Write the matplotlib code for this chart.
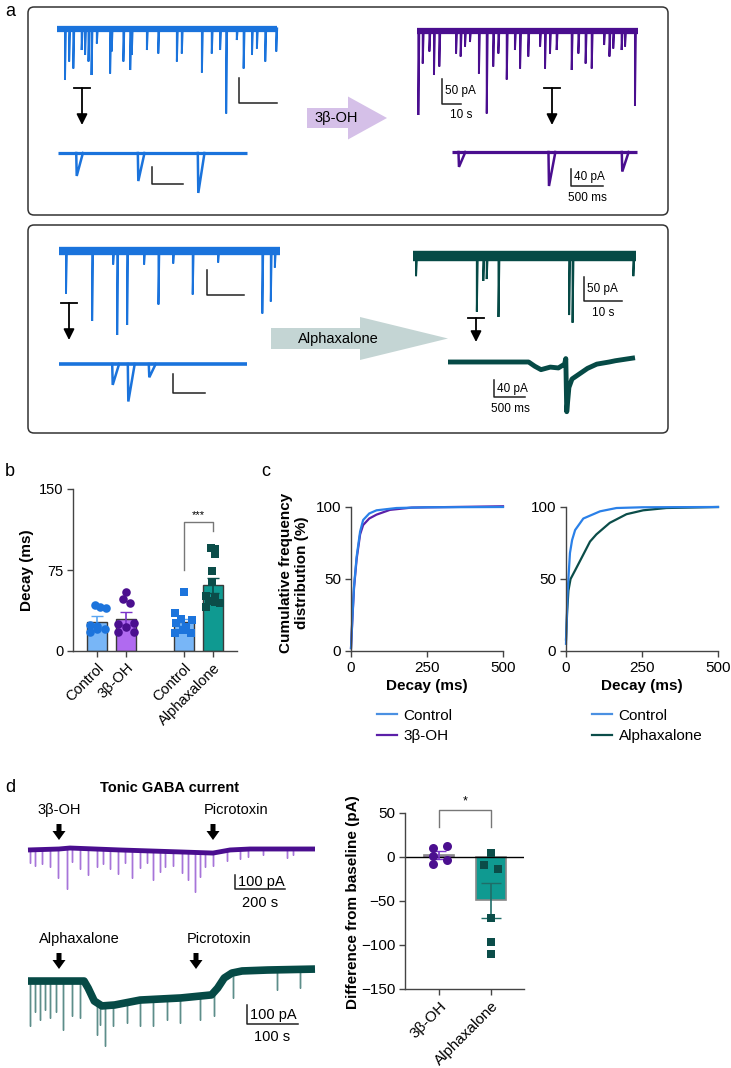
import numpy as np
import matplotlib
matplotlib.use("Agg")
import matplotlib.pyplot as plt
from matplotlib.patches import FancyBboxPatch, FancyArrow

plt.rcParams['font.family'] = ['Liberation Sans', 'DejaVu Sans']
plt.rcParams['axes.unicode_minus'] = True

W, H = 731, 1068

BLUE = '#1a73dc'
PURPLE = '#4a0e8f'
GREEN = '#064a46'

# ---------------- panel a: sIPSC traces (event time, amplitude in pA) ----------------
# box 1, control (blue), 58 s
a1_ctrl_t = [2.1, 3.2, 4.3, 6.5, 7.4, 8.3, 9.1, 10.5, 14.0, 14.4, 17.5, 19.3, 19.7, 23.7,
             26.7, 31.6, 32.9, 38.2, 40.8, 43.0, 44.6, 47.4, 49.2, 51.4, 52.7, 54.9, 57.8]
a1_ctrl_amp = [103, 66, 80, 43, 53, 66, 93, 30, 90, 46, 66, 83, 53, 43,
               50, 66, 50, 88, 50, 43, 170, 23, 80, 53, 40, 66, 46]
a1_ctrl_zoom_t = [302, 1296, 2264]
a1_ctrl_zoom_amp = [54, 66, 94]
# box 1, 3beta-OH (purple)
a1_beta_t = [0.7, 3.0, 6.5, 8.9, 11.7, 20.5, 22.9, 25.2, 27.8, 32.5, 36.6, 40.0, 42.7, 47.1,
             51.4, 54.1, 58.4, 64.6, 67.2, 69.8, 73.3, 81.2, 84.7, 88.5, 91.7, 98.2, 101.0,
             103.0, 107.4, 109.2, 114.4]
a1_beta_amp = [168, 65, 41, 88, 71, 45, 51, 31, 22, 85, 165, 71, 45, 97,
               38, 75, 51, 31, 75, 45, 38, 78, 45, 65, 75, 28, 51,
               35, 38, 31, 150]
a1_beta_zoom_t = [109, 1515, 2660]
a1_beta_zoom_amp = [35, 80, 46]
# box 2, control (blue)
a2_ctrl_t = [1.9, 9.0, 14.7, 15.8, 18.5, 23.1, 27.0, 31.0, 36.3, 43.2, 55.2, 57.5, 58.6]
a2_ctrl_amp = [85, 140, 27, 168, 148, 27, 107, 25, 87, 23, 125, 101, 33]
a2_ctrl_zoom_t = [840, 1084, 1412]
a2_ctrl_zoom_amp = [44, 79, 28]
# box 2, alphaxalone (green)
a2_alfa_t = [0.8, 16.8, 18.5, 19.4, 22.5, 41.1, 42.0, 58.0]
a2_alfa_amp = [42, 116, 52, 48, 127, 123, 139, 42]
a2_alfa_zoom_t = [0, 1300, 1400, 1500, 1650, 1780, 1880, 1900, 1915, 1950, 2000, 2100,
                  2250, 2400, 2600, 2700, 3016]
a2_alfa_zoom_pA = [0, 0, -10, -18, -12, -14, -5, 8, -117, -60, -40, -30,
                   -15, -5, 0, 3, 10]

# ---------------- panel b: decay (ms) ----------------
b_groups = ['Control', '3β-OH', 'Control', 'Alphaxalone']
b_mean = [27, 30, 27, 61]
b_sem = [5, 6, 3, 7]
b_ctrl1 = [43, 41, 40, 24, 23, 18, 20, 20]
b_beta = [55, 48, 44, 25, 26, 18, 22, 18]
b_ctrl2 = [55, 35, 30, 29, 26, 22, 17, 17, 19]
b_alfa = [95, 94, 90, 74, 64, 51, 49, 46, 44, 41, 45]

# ---------------- panel c: cumulative distributions ----------------
c_left_t = [0, 5, 10, 18.6, 30, 40, 60, 84, 150, 250, 500]
c_left_ctrl = [2, 25, 45, 65.6, 83, 91, 95.5, 97.7, 99.3, 99.8, 100]
c_left_beta_t = [0, 5, 10, 18.6, 30, 40, 60, 84, 128, 200, 500]
c_left_beta = [2, 24, 44, 64, 81, 87.5, 92, 94.7, 98, 99.6, 100.5]
c_right_t = [0, 5, 13, 20, 30, 57, 112, 166, 250, 500]
c_right_ctrl = [5, 40, 68, 77, 84, 92, 97, 99.3, 99.8, 100]
c_right_alfa_t = [0, 4, 8, 15, 30, 57, 79, 100, 144, 199, 254, 330, 500]
c_right_alfa = [8, 28, 42, 50, 56, 67, 76, 81, 89, 95, 97.7, 99.3, 100]

# ---------------- panel d: tonic current ----------------
d_beta_base_t = [0, 124, 168, 368, 608, 740, 808, 888, 1148]
d_beta_base_pA = [-7, 0, 7, -7, -21, -29, -7, 0, 0]
d_beta_ev_t = [8, 28, 55, 88, 121, 155, 175, 208, 241, 275, 301, 328, 361, 388, 415, 448, 475,
               501, 528, 548, 581, 615, 641, 668, 688, 708, 741, 795, 848, 881, 941, 1035, 1061]
d_beta_ev_amp = [90, 114, 102, 126, 210, 293, 102, 150, 186, 126, 102, 138, 174, 90, 198, 126, 90,
                 210, 150, 114, 102, 150, 198, 281, 174, 102, 90, 78, 66, 55, 43, 66, 43]
d_alfa_base_t = [0, 110, 118, 130, 145, 170, 220, 300, 360, 372, 385, 400, 420, 470, 563]
d_alfa_base_pA = [-16, -16, -53, -121, -147, -142, -116, -105, -89, -53, 0, 26, 37, 42, 47]
d_alfa_ev_t = [4, 14, 23.5, 33, 43, 55, 69, 86, 102, 135, 141, 151, 167, 194, 220, 246, 272,
               298, 337, 364, 403, 488, 534]
d_alfa_ev_tip = [-254, -180, -219, -170, -210, -180, -272, -202, -210, -298, -246, -360, -254,
                 -237, -254, -254, -219, -237, -219, -202, -105, -61, -53]
d_groups = ['3β-OH', 'Alphaxalone']
d_mean = [2.6, -49]
d_sem = [4.5, 20]
d_beta_pts = [10, 12, 1.5, -3, -8]
d_alfa_pts = [4, -9, -14, -69, -97, -110]

fig = plt.figure(figsize=(W / 100, H / 100), dpi=100)
ov = fig.add_axes([0, 0, 1, 1])
ov.set_xlim(0, W)
ov.set_ylim(H, 0)
ov.axis('off')


def px_axes(x0, y0, x1, y1):
    return fig.add_axes([x0 / W, 1 - y1 / H, (x1 - x0) / W, (y1 - y0) / H])


def trace(x0, x1, base_px, k, T, base_t, base_v, ev_t, ev_amp, color, lw,
          ev_color=None, ev_lw=1.4, rise=0.0, decay=0.0, tips=False):
    ax = px_axes(x0, base_px - 80 * k, x1, base_px + 420 * k)
    ax.set_xlim(0, T)
    ax.set_ylim(-420, 80)
    ax.axis('off')
    if base_t is None:
        base_t, base_v = [0, T], [0, 0]
    ec = ev_color or color
    for t, a in zip(ev_t, ev_amp):
        b = np.interp(t, base_t, base_v)
        lo = a if tips else b - a
        ax.plot([t - rise, t, t + decay], [b, lo, b], color=ec, lw=ev_lw,
                solid_joinstyle='miter', clip_on=False)
    ax.plot(base_t, base_v, color=color, lw=lw, solid_capstyle='butt',
            solid_joinstyle='round', clip_on=False)
    return ax


def scalebar(x, y_top, y_bot, x_end, color='#222'):
    ov.plot([x, x, x_end], [y_top, y_bot, y_bot], color=color, lw=1.1)


def t_arrow(x, y_t, y_tip):
    ov.plot([x - 8, x + 8], [y_t, y_t], color='k', lw=1.3)
    ov.annotate('', xy=(x, y_tip), xytext=(x, y_t),
                arrowprops=dict(arrowstyle='-|>', color='k', lw=1.3, mutation_scale=16,
                                shrinkA=0, shrinkB=0))


# ---- panel a boxes
for y0 in (7, 225):
    ov.add_patch(FancyBboxPatch((28, y0), 640, 208, boxstyle='round,pad=0,rounding_size=6',
                                fc='none', ec='#333333', lw=1.1))
ov.text(10, 12, 'a', fontsize=13, ha='center', va='center')

trace(57, 277, 28.5, 0.5, 58, None, None, a1_ctrl_t, a1_ctrl_amp, BLUE, 4.5, decay=0.25)
trace(58, 247, 153, 0.425, 3050, None, None, a1_ctrl_zoom_t, a1_ctrl_zoom_amp, BLUE, 2.3,
      ev_lw=1.8, rise=8, decay=100)
trace(417, 638, 31, 0.5, 116, None, None, a1_beta_t, a1_beta_amp, PURPLE, 4.5, decay=0.5)
trace(452, 637, 152, 0.425, 2890, None, None, a1_beta_zoom_t, a1_beta_zoom_amp, PURPLE, 2.3,
      ev_lw=1.8, rise=8, decay=100)
trace(59, 280, 251, 0.5, 60, None, None, a2_ctrl_t, a2_ctrl_amp, BLUE, 6, decay=0.25)
trace(59, 247, 364, 0.475, 2940, None, None, a2_ctrl_zoom_t, a2_ctrl_zoom_amp, BLUE, 2.6,
      ev_lw=1.8, rise=8, decay=100)
trace(413, 636, 256, 0.48, 58.7, None, None, a2_alfa_t, a2_alfa_amp, GREEN, 7.5, decay=0.25)
trace(448, 635, 362, 0.425, 3016, a2_alfa_zoom_t, a2_alfa_zoom_pA, [], [], GREEN, 3.5)

# scale bars + labels
scalebar(239, 78, 103, 277)
scalebar(152, 167, 184, 183)
scalebar(442, 79, 104, 461)
ov.text(445, 91, '50 pA', fontsize=8.5, va='center')
ov.text(461, 115, '10 s', fontsize=8.5, ha='center', va='center')
scalebar(571, 169, 186, 603)
ov.text(574, 177, '40 pA', fontsize=8.5, va='center')
ov.text(587, 198, '500 ms', fontsize=8.5, ha='center', va='center')
scalebar(207, 270, 295, 244)
scalebar(173, 374, 393, 205)
scalebar(584, 277, 301, 622)
ov.text(587, 289, '50 pA', fontsize=8.5, va='center')
ov.text(603, 313, '10 s', fontsize=8.5, ha='center', va='center')
scalebar(494, 380, 397, 525)
ov.text(497, 389, '40 pA', fontsize=8.5, va='center')
ov.text(510, 409, '500 ms', fontsize=8.5, ha='center', va='center')

t_arrow(82, 88, 125)
t_arrow(552, 88, 125)
t_arrow(69, 303, 340)
t_arrow(476, 318, 342)

ov.add_patch(FancyArrow(307, 118, 80, 0, width=20, head_width=43, head_length=39,
                        length_includes_head=True, color='#d5c0e8', lw=0))
ov.text(336, 118, '3β-OH', fontsize=10.5, ha='center', va='center')
ov.add_patch(FancyArrow(271, 338.5, 177, 0, width=21, head_width=43, head_length=88,
                        length_includes_head=True, color='#c4d5d4', lw=0))
ov.text(338, 339, 'Alphaxalone', fontsize=10.5, ha='center', va='center')

# ---- panel b
ax_b = px_axes(73, 489, 237, 651)
pos_b = [0, 1, 3, 4]
bar_cols = ['#78b6f7', '#b06af0', '#78b6f7', '#0f9a91']
err_cols = ['#5aa6f2', '#7a34c8', '#5aa6f2', '#0b4d49']
ax_b.bar(pos_b, b_mean, width=0.69, color=bar_cols, edgecolor='#3a3a3a', lw=1, zorder=2)
for p, m, s, c in zip(pos_b, b_mean, b_sem, err_cols):
    ax_b.errorbar(p, m, yerr=s, fmt='none', ecolor=c, capsize=4, elinewidth=1.2, zorder=3)
jit_c1 = [-0.08, 0.09, 0.32, -0.25, 0.0, -0.25, 0.0, 0.29]
jit_b = [0.0, -0.12, 0.15, -0.28, 0.28, -0.28, 0.0, 0.28]
jit_c2 = [0.0, -0.3, -0.1, 0.28, -0.26, 0.08, -0.3, 0.25, -0.03]
jit_a = [-0.08, 0.06, 0.06, -0.02, -0.02, -0.25, 0.06, -0.12, 0.26, -0.25, 0.06]
ax_b.scatter(np.add(pos_b[0], jit_c1), b_ctrl1, s=38, color='#1c74dc', zorder=4, lw=0)
ax_b.scatter(np.add(pos_b[1], jit_b), b_beta, s=38, color='#4b0f8f', zorder=4, lw=0)
ax_b.scatter(np.add(pos_b[2], jit_c2), b_ctrl2, s=30, marker='s', color='#1c74dc', zorder=4, lw=0)
ax_b.scatter(np.add(pos_b[3], jit_a), b_alfa, s=30, marker='s', color='#0b4d49', zorder=4, lw=0)
ax_b.plot([3, 3, 4, 4], [75, 119, 119, 111], color='#777777', lw=1)
ax_b.text(3.5, 121, '***', ha='center', va='bottom', fontsize=8)
ax_b.set_xlim(-0.83, 4.83)
ax_b.set_ylim(0, 150)
ax_b.set_yticks([0, 75, 150])
ax_b.set_xticks(pos_b)
ax_b.set_xticklabels(b_groups, rotation=45, ha='right', va='top', rotation_mode='anchor')
ov.text(27, 570, 'Decay (ms)', rotation=90, ha='center', va='center', fontsize=11,
        fontweight='bold')
ov.text(10, 472, 'b', fontsize=13, ha='center', va='center')

# ---- panel c
ax_c1 = px_axes(351, 507, 503, 651)
ax_c2 = px_axes(566, 507, 718, 651)
ax_c1.plot(c_left_beta_t, c_left_beta, color='#5b1fa8', lw=1.6, clip_on=False, label='3β-OH')
ax_c1.plot(c_left_t, c_left_ctrl, color='#2a80e8', lw=1.6, clip_on=False, label='Control')
ax_c2.plot(c_right_alfa_t, c_right_alfa, color='#0b4d49', lw=1.6, clip_on=False,
           label='Alphaxalone')
ax_c2.plot(c_right_t, c_right_ctrl, color='#2a80e8', lw=1.6, clip_on=False, label='Control')
for ax in (ax_c1, ax_c2):
    ax.set_xlim(0, 500)
    ax.set_ylim(0, 100)
    ax.set_xticks([0, 250, 500])
    ax.set_yticks([0, 50, 100])
    ax.set_xlabel('Decay (ms)', fontsize=11, fontweight='bold', labelpad=3)
    h, l = ax.get_legend_handles_labels()
    leg = ax.legend(h[::-1], l[::-1], loc='upper left', bbox_to_anchor=(0.17, -0.40),
                    frameon=False, fontsize=11, handlelength=1.3, handletextpad=0.45,
                    borderpad=0, borderaxespad=0, labelspacing=0.45)
    leg.get_lines()[0].set_color('#4a90e2')
ov.text(294, 573, 'Cumulative frequency\ndistribution (%)', rotation=90, ha='center',
        va='center', fontsize=11, fontweight='bold', multialignment='center', linespacing=1.1)
ov.text(266, 472, 'c', fontsize=13, ha='center', va='center')

# ---- panel d traces
ov.text(10, 788, 'd', fontsize=13, ha='center', va='center')
ov.text(170, 788, 'Tonic GABA current', fontsize=10.5, fontweight='bold', ha='center',
        va='center')
trace(28, 315, 849, 0.14, 1148, d_beta_base_t, d_beta_base_pA, d_beta_ev_t, d_beta_ev_amp,
      PURPLE, 3.5, ev_color='#a775d9', ev_lw=1.0)
trace(28, 315, 978, 0.19, 563, d_alfa_base_t, d_alfa_base_pA, d_alfa_ev_t, d_alfa_ev_tip,
      GREEN, 5.5, ev_color='#5d8e8a', ev_lw=1.0, tips=True)
for x, y0, lab, dx in [(59, 824, '3β-OH', 0), (213, 824, 'Picrotoxin', 23),
                       (59, 953, 'Alphaxalone', 20), (196, 953, 'Picrotoxin', 23)]:
    ov.add_patch(FancyArrow(x, y0, 0, 16, width=5, head_width=13, head_length=9,
                            length_includes_head=True, color='k', lw=0))
    ov.text(x + dx, y0 - 14, lab, fontsize=10.5, ha='center', va='center')
scalebar(235, 875, 889, 285)
ov.text(238, 882, '100 pA', fontsize=10.5, va='center')
ov.text(260, 903, '200 s', fontsize=10.5, ha='center', va='center')
scalebar(247, 1005, 1024, 298)
ov.text(250, 1015, '100 pA', fontsize=10.5, va='center')
ov.text(272, 1037, '100 s', fontsize=10.5, ha='center', va='center')

# ---- panel d bars
ax_d = px_axes(405, 813, 524, 989)
pos_d = [0, 1]
ax_d.bar(pos_d, d_mean, width=0.59, color=['#b06af0', '#0f9a91'], edgecolor='#888888',
         lw=1.2, zorder=2)
ax_d.axhline(0, color='k', lw=1, zorder=2.5)
ax_d.errorbar(pos_d[0], d_mean[0], yerr=d_sem[0], fmt='none', ecolor='#7a34c8', capsize=5,
              elinewidth=1.2, zorder=3)
ax_d.errorbar(pos_d[1], d_mean[1], yerr=d_sem[1], fmt='none', ecolor='#1f6d68', capsize=7,
              elinewidth=1.2, zorder=3)
ax_d.scatter(np.add(pos_d[0], [-0.12, 0.15, -0.12, 0.15, -0.12]), d_beta_pts, s=42,
             color='#4b0f8f', zorder=4, lw=0)
ax_d.scatter(np.add(pos_d[1], [0, -0.14, 0.13, 0, 0, 0]), d_alfa_pts, s=34, marker='s',
             color='#0b4d49', zorder=4, lw=0)
ax_d.plot([0, 0, 1, 1], [34, 53, 53, 34], color='#777777', lw=1, clip_on=False)
ax_d.text(0.5, 56, '*', ha='center', va='bottom', fontsize=9)
ax_d.set_xlim(-0.654, 1.635)
ax_d.set_ylim(-150, 50)
ax_d.set_yticks([50, 0, -50, -100, -150])
ax_d.set_xticks(pos_d)
ax_d.set_xticklabels(d_groups, rotation=45, ha='right', va='top', rotation_mode='anchor')
ov.text(353, 902, 'Difference from baseline (pA)', rotation=90, ha='center', va='center',
        fontsize=11, fontweight='bold')

for ax in (ax_b, ax_c1, ax_c2, ax_d):
    for s in ('top', 'right'):
        ax.spines[s].set_visible(False)
    for s in ('left', 'bottom'):
        ax.spines[s].set_color('#444444')
        ax.spines[s].set_linewidth(1.0)
    ax.tick_params(length=4, width=1, color='#444444', labelsize=11, pad=3)
ax_b.tick_params(labelsize=10.5)

fig.savefig('out.png', dpi=100)
